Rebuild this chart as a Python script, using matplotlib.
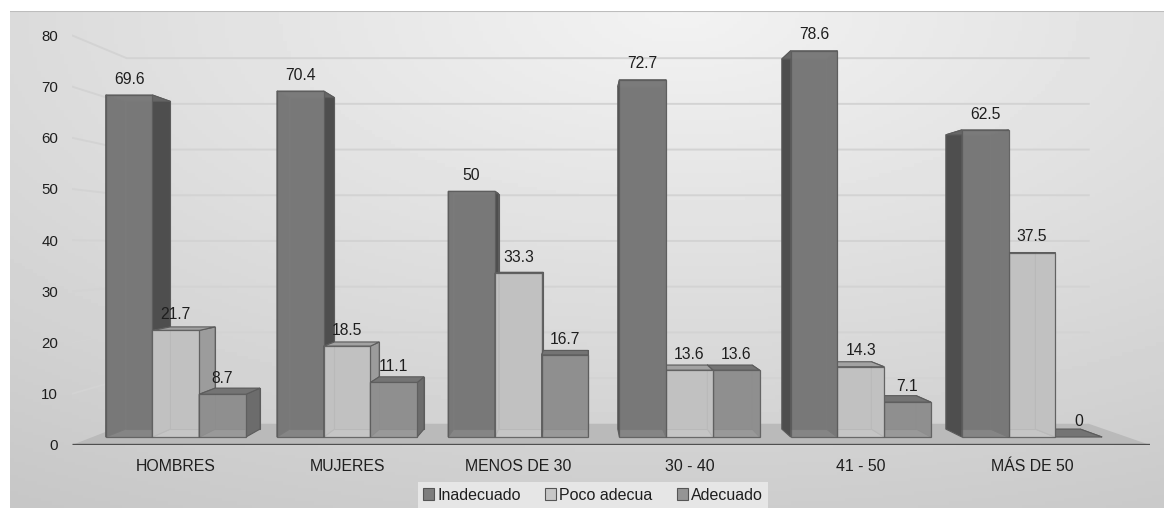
import numpy as np
import matplotlib.pyplot as plt
from matplotlib.patches import Polygon, Patch

plt.rcParams['font.family'] = ['Liberation Sans', 'DejaVu Sans']

# ======================
# Datos
# ======================
categorias = ["HOMBRES", "MUJERES", "MENOS DE 30", "30 - 40", "41 - 50", "MÁS DE 50"]
inadecuado = [69.6, 70.4, 50, 72.7, 78.6, 62.5]
poco_adecua = [21.7, 18.5, 33.3, 13.6, 14.3, 37.5]
adecuado = [8.7, 11.1, 16.7, 13.6, 7.1, 0]
series = ["Inadecuado", "Poco adecua", "Adecuado"]
ticks_y = list(range(0, 90, 10))

# colores: frente, lateral, tapa
colores = {
    "Inadecuado": ("#7e7e7e", "#4e4e4e", "#666666"),
    "Poco adecua": ("#c7c7c7", "#9c9c9c", "#a2a2a2"),
    "Adecuado": ("#959595", "#6c6c6c", "#747474"),
}
borde = "#5c5c5c"

# ======================
# Perspectiva simple (punto de fuga)
# ======================
XE, YE = 2.36, 38.6        # punto de fuga en coordenadas de datos
S_PISO = 1.042             # borde frontal del piso
S_FONDO_BARRA = 0.958      # cara trasera de las barras
S_PARED = 0.93             # pared del fondo
ANCHO = 0.273
X_IZQ, X_DER = -0.487, 5.555


def proy(x, y, s):
    return (XE + (x - XE) * s, YE + (y - YE) * s)


fig = plt.figure(figsize=(11.64, 5.09), dpi=100)
fig.patch.set_facecolor("white")

# fondo degradado
bg = fig.add_axes([10 / 1164, 1 / 509, 1154 / 1164, 497 / 509], zorder=-5)
gx, gy = np.meshgrid(np.linspace(0, 1, 300), np.linspace(1, 0, 150))
d = np.sqrt(((gx - 0.58) / 1.0) ** 2 + ((gy - 1.0) / 1.1) ** 2)
val = np.clip(0.95 - 0.16 * d, 0, 1)
bg.imshow(val, cmap="gray", vmin=0, vmax=1, aspect="auto", extent=[0, 1, 0, 1])
bg.plot([0, 1], [1, 1], color="#bdbdbd", lw=1.5)
bg.set_xlim(0, 1)
bg.set_ylim(0, 1)
bg.axis("off")

ax = fig.add_axes([72 / 1164, 64 / 509, 1078 / 1164, 425 / 509])
ax.patch.set_alpha(0)
xl0 = proy(X_IZQ, 0, S_PISO)[0]
xl1 = proy(X_DER, 0, S_PISO)[0]
yb = proy(0, 0, S_PISO)[1]
ax.set_xlim(xl0, xl1)
ax.set_ylim(yb, yb + 425 / 4.914)
for sp in ax.spines.values():
    sp.set_visible(False)

# lineas de cuadricula: pared lateral y pared del fondo
for v in ticks_y[1:]:
    a = proy(X_IZQ, v, S_PISO)
    b = proy(X_IZQ, v, S_PARED)
    c = proy(X_DER, v, S_PARED)
    ax.plot([a[0], b[0], c[0]], [a[1], b[1], c[1]], color="#d3d3d3", lw=1.4, zorder=1)

# piso
piso = [proy(X_IZQ, 0, S_PISO), proy(X_DER, 0, S_PISO),
        proy(X_DER, 0, S_PARED), proy(X_IZQ, 0, S_PARED)]
ax.add_patch(Polygon(piso, closed=True, facecolor="#bababa", edgecolor="none", zorder=2))
ax.plot([piso[0][0], piso[1][0]], [piso[0][1], piso[1][1]], color="#4f4f4f", lw=2.4,
        zorder=3, solid_capstyle="butt")

# barras
barras = []
for i in range(len(categorias)):
    for j, (nombre, vals) in enumerate(zip(series, [inadecuado, poco_adecua, adecuado])):
        xc = i + (j - 1) * ANCHO
        barras.append((xc, vals[i], nombre))

barras.sort(key=lambda b: -abs(b[0] - XE))

z = 4
for xc, v, nombre in barras:
    fr, lat, tapa = colores[nombre]
    x0, x1 = xc - ANCHO / 2, xc + ANCHO / 2
    f = [(x0, 0), (x1, 0), (x1, v), (x0, v)]
    t = [proy(x, y, S_FONDO_BARRA) for x, y in f]
    # cara trasera
    ax.add_patch(Polygon(t, closed=True, facecolor=lat, edgecolor=borde, lw=0.8, zorder=z))
    # laterales
    ax.add_patch(Polygon([f[0], f[3], t[3], t[0]], closed=True, facecolor=lat,
                         edgecolor=borde, lw=0.8, zorder=z))
    ax.add_patch(Polygon([f[1], f[2], t[2], t[1]], closed=True, facecolor=lat,
                         edgecolor=borde, lw=0.8, zorder=z))
    # tapa
    ax.add_patch(Polygon([f[3], f[2], t[2], t[3]], closed=True, facecolor=tapa,
                         edgecolor=borde, lw=0.8, zorder=z))
    # frente
    if v > 0:
        ax.add_patch(Polygon(f, closed=True, facecolor=fr, edgecolor=borde, lw=0.9,
                             alpha=0.88, zorder=z))
    ax.annotate(f"{v:g}", (xc, v), xytext=(0, 6), textcoords="offset points",
                ha="center", va="bottom", fontsize=11.3, color="#1e1e1e", zorder=50)
    z += 1

# ejes
ax.set_yticks([proy(0, v, S_PISO)[1] for v in ticks_y])
ax.set_yticklabels([str(v) for v in ticks_y])
ax.set_xticks(range(len(categorias)))
ax.set_xticklabels(categorias)
ax.tick_params(axis="y", length=0, pad=10, labelsize=10.8, labelcolor="#1e1e1e")
ax.tick_params(axis="x", length=0, pad=10, labelsize=11.4, labelcolor="#1e1e1e")

manijas = [Patch(facecolor=colores[s][0], edgecolor="#555555", lw=0.8) for s in series]
leg = fig.legend(manijas, series, loc="center", bbox_to_anchor=(593 / 1164, 1 - 495 / 509),
                 ncol=3, frameon=True, fontsize=11.5, handlelength=0.7, handleheight=0.7,
                 handletextpad=0.2, columnspacing=1.5, borderpad=0.35, fancybox=False)
for tx in leg.get_texts():
    tx.set_color("#1e1e1e")
leg.get_frame().set_facecolor("#e9e9e9")
leg.get_frame().set_edgecolor("none")
leg.get_frame().set_alpha(0.9)

fig.savefig("out.png", dpi=100)
